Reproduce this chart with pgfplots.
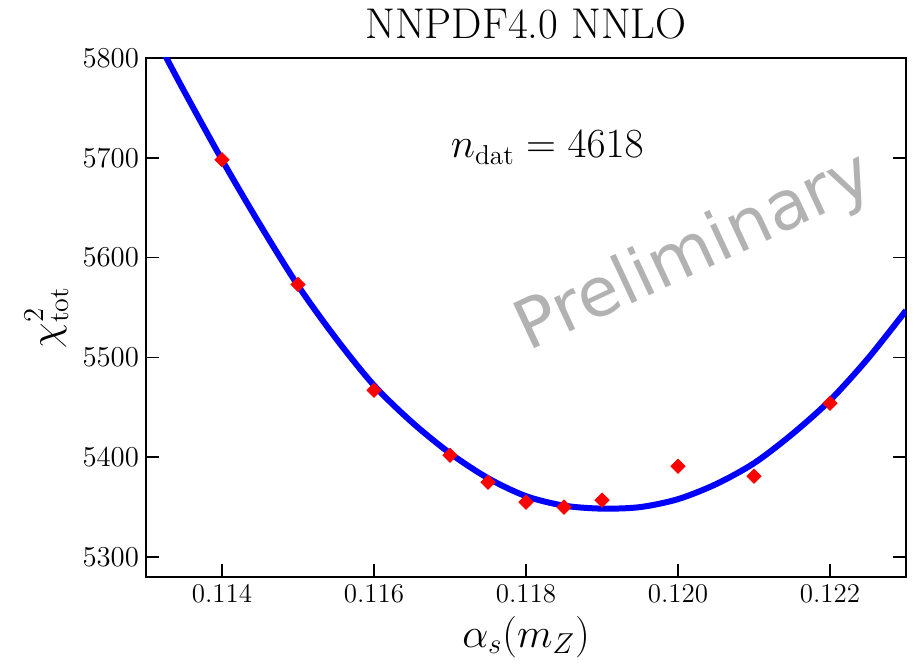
\documentclass[border=0pt]{standalone}
\usepackage{pgfplots}
\pgfplotsset{compat=1.18}
\usepackage{fontspec}
\newfontfamily\wmfont{DejaVu Sans}

% chi2 values of the individual fits
\pgfplotstableread{
as      chi2
0.1140  5698
0.1150  5573
0.1160  5467
0.1170  5402
0.1175  5375
0.1180  5355
0.1185  5350
0.1190  5357
0.1200  5391
0.1210  5381
0.1220  5454
}\fitpoints

% fitted profile
\pgfplotstableread{
as      chi2
0.1132  5810
0.1135  5767
0.1140  5698
0.1145  5633
0.1150  5572
0.1155  5519
0.1160  5472
0.1165  5435
0.1170  5404
0.1175  5379
0.1180  5361
0.1185  5351.5
0.1190  5348.5
0.1195  5350
0.1200  5358
0.1205  5373
0.1210  5394
0.1215  5423
0.1220  5457
0.1225  5499
0.1230  5547
}\fitcurve

\begin{document}
\begin{tikzpicture}
\begin{axis}[
  name=ax,
  scale only axis,
  width=380pt, height=259.5pt,
  xmin=0.113, xmax=0.123,
  ymin=5280, ymax=5800,
  xtick={0.114,0.116,0.118,0.120,0.122},
  xticklabels={0.114,0.116,0.118,0.120,0.122},
  ytick={5300,5400,5500,5600,5700,5800},
  yticklabel style={/pgf/number format/1000 sep={}},
  scaled x ticks=false,
  tick align=inside,
  xtick pos=bottom,
  ytick pos=both,
  major tick length=6.5pt,
  tick style={black, line width=0.75pt},
  axis line style={line width=0.75pt},
  ticklabel style={font=\fontsize{13.5}{16}\selectfont},
  xlabel={$\alpha_s(m_Z)$},
  ylabel={$\chi^2_{\mathrm{tot}}$},
  label style={font=\fontsize{20}{24}\selectfont},
  title={NNPDF4.0 NNLO},
  title style={font=\fontsize{21.5}{25}\selectfont},
]
\addplot[only marks, mark=square*, mark size=2.5pt,
  mark options={rotate=45, draw=red, fill=red}]
  table[x=as, y=chi2] {\fitpoints};
\addplot[blue, line width=3pt, smooth, no markers]
  table[x=as, y=chi2] {\fitcurve};
\node[font=\fontsize{19.5}{23}\selectfont] at (axis cs:0.11828,5710)
  {$n_{\mathrm{dat}} = 4618$};
\node[font=\wmfont\fontsize{34}{40}\selectfont, text=black!30, rotate=25]
  at (axis cs:0.12022,5604) {Preliminary};
\end{axis}
\pgfresetboundingbox
\path ([shift={(-73pt,-44pt)}]ax.south west) rectangle ([shift={(4.5pt,29pt)}]ax.north east);
\end{tikzpicture}
\end{document}
